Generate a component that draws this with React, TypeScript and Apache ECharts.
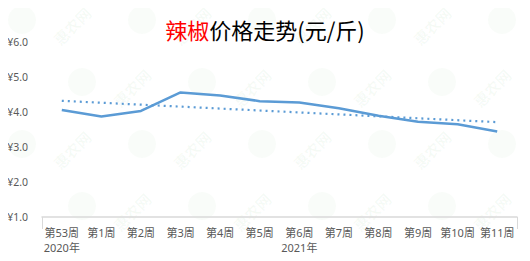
import React, { useEffect, useRef } from "react";
import * as echarts from "echarts";

const weeks = ["第53周", "第1周", "第2周", "第3周", "第4周", "第5周", "第6周", "第7周", "第8周", "第9周", "第10周", "第11周"];
const yearLabels = ["2020年", "", "", "", "", "", "2021年", "", "", "", "", ""];
const prices = [4.06, 3.87, 4.03, 4.56, 4.47, 4.31, 4.27, 4.11, 3.89, 3.72, 3.65, 3.44];
// linear trend, start and end values
const trendStart = 4.32;
const trendEnd = 3.71;

const labelFont = "'Noto Sans', 'Noto Sans CJK SC', sans-serif";

// faint tiled site watermark behind the plot
function watermarks(): any[] {
  const items: any[] = [];
  for (let row = 0; row < 5; row++) {
    for (let col = 0; col < 5; col++) {
      const cx = 22 + col * 120 + (row % 2) * 60;
      const cy = 20 + row * 62;
      items.push({
        type: "circle",
        silent: true,
        z: -10,
        shape: { cx, cy, r: 14 },
        style: { fill: "rgba(120,190,120,0.045)" },
      });
      if (cx + 50 < 505 && cy < 210) {
        items.push({
          type: "text",
          silent: true,
          z: -10,
          x: cx + 50,
          y: cy + 6,
          rotation: Math.PI / 4,
          style: {
            text: "惠农网",
            fill: "rgba(110,180,110,0.06)",
            font: "bold 15px 'Noto Sans CJK SC'",
            align: "center",
            verticalAlign: "middle",
          },
        });
      }
    }
  }
  return items;
}

export default function App() {
  const ref = useRef<HTMLDivElement>(null);
  useEffect(() => {
    if (!ref.current) return;
    const chart = echarts.init(ref.current, null, { renderer: "svg" });
    const trend = weeks.map((_, i) => (i === 0 ? trendStart : i === weeks.length - 1 ? trendEnd : null));
    chart.setOption({
      animation: false,
      backgroundColor: "#ffffff",
      graphic: watermarks(),
      title: {
        text: "{r|辣椒}{k|价格走势(元/斤)}",
        left: "center",
        top: 13,
        textStyle: {
          fontWeight: "normal",
          rich: {
            r: { color: "#ff0000", fontSize: 22, fontWeight: "normal", fontFamily: "'Noto Sans CJK SC'" },
            k: { color: "#000000", fontSize: 22, fontWeight: "normal", fontFamily: "'Noto Sans CJK SC'" },
          },
        },
      },
      grid: { left: 42, right: 13, top: 42, bottom: 44 },
      xAxis: [
        {
          type: "category",
          data: weeks,
          boundaryGap: true,
          axisLine: { lineStyle: { color: "#d9d9d9", width: 1.5 } },
          axisTick: {
            show: true,
            interval: (i: number) => i === 1,
            length: 12,
            lineStyle: { color: "#d9d9d9", width: 1 },
          },
          axisLabel: {
            interval: 0,
            color: "#595959",
            fontSize: 11,
            margin: 10,
            fontFamily: labelFont,
          },
        },
        {
          type: "category",
          data: yearLabels,
          position: "bottom",
          offset: 14,
          boundaryGap: true,
          axisLine: { show: false },
          axisTick: { show: false },
          axisLabel: {
            interval: 0,
            color: "#595959",
            fontSize: 11,
            margin: 11,
            fontFamily: labelFont,
          },
        },
      ],
      yAxis: {
        type: "value",
        min: 1,
        max: 6,
        interval: 1,
        splitLine: { show: false },
        axisLine: { show: false },
        axisTick: { show: false },
        axisLabel: {
          color: "#595959",
          fontSize: 10.5,
          margin: 14,
          fontFamily: labelFont,
          formatter: (v: number) => "¥" + v.toFixed(1),
        },
      },
      series: [
        {
          type: "line",
          data: prices,
          symbol: "none",
          lineStyle: { color: "#5b9bd5", width: 2.5 },
        },
        {
          type: "line",
          data: trend,
          connectNulls: true,
          symbol: "none",
          lineStyle: { color: "#5b9bd5", width: 2.2, type: [2, 4] },
        },
      ],
    });
    return () => chart.dispose();
  }, []);
  return <div ref={ref} style={{ width: 530, height: 261, margin: -8 }} />;
}
